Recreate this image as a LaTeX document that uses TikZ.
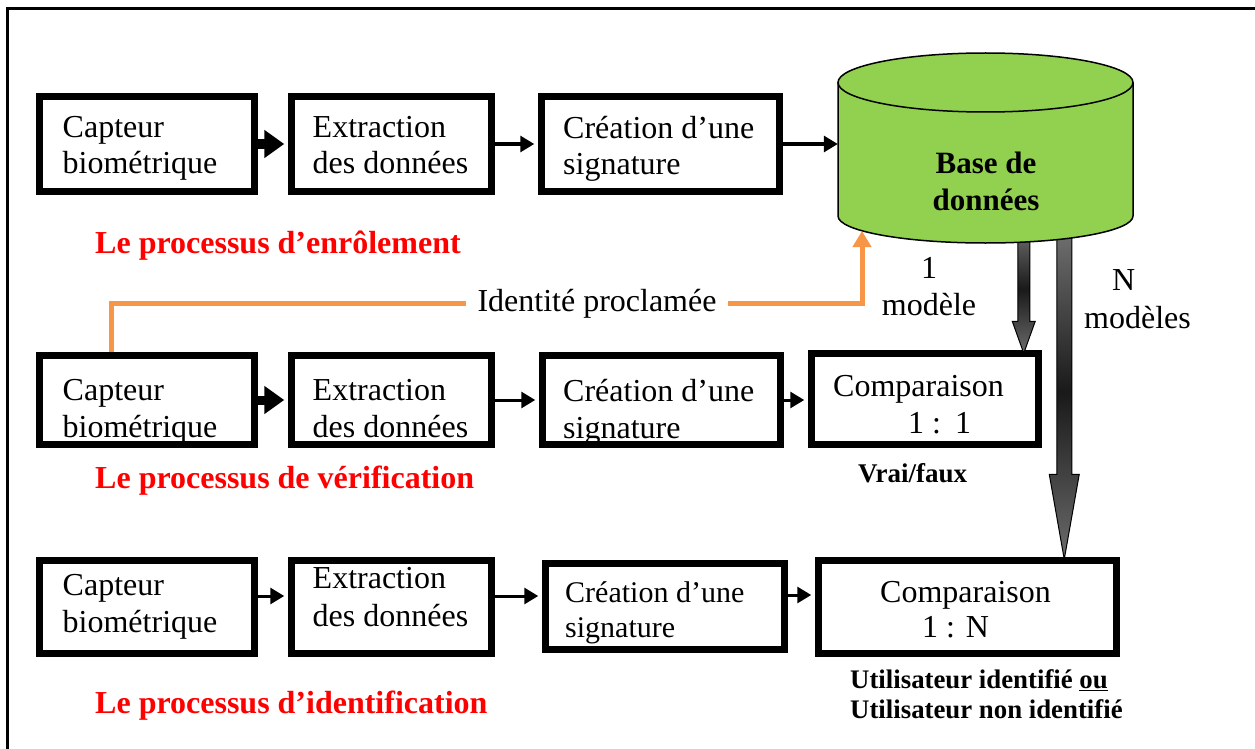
\documentclass[tikz,border=0pt]{standalone}
\usepackage{fontspec}
\setmainfont{Liberation Serif}
\usetikzlibrary{arrows.meta,calc}
\definecolor{dbgreen}{HTML}{92D050}
\definecolor{orline}{HTML}{F79646}
\definecolor{redlab}{HTML}{FF0000}
\newcommand{\fsz}[2]{\fontsize{#1pt}{#2pt}\selectfont}
\begin{document}
\begin{tikzpicture}[x=1pt,y=-1pt,
  box/.style={draw, line width=7.5pt, inner sep=0pt},
  txt/.style={inner sep=0pt, anchor=north west, align=left, font=\fsz{32}{36}, execute at begin node=\strut},
  thinarr/.style={line width=3pt, -{Triangle[length=14pt,width=16pt]}, shorten >=3.5pt},
  thickarr/.style={line width=9pt, -{Triangle[length=20pt,width=27pt]}, shorten >=3.5pt},
  redlabel/.style={text=redlab, font=\fsz{32}{37}\bfseries, inner sep=0pt, anchor=base west},
  fat/.style={draw=black, line width=1pt, top color=black!55, bottom color=black!58, middle color=black!90},
  orl/.style={draw=orline, line width=5pt}]
\useasboundingbox (0,0) rectangle (1255,749);
% frame
\draw[line width=3pt] (7,749) -- (7,9) -- (1255,9);

% texts inside boxes
\node[txt] (tc1) at (62.5,115.8) {Capteur\\biométrique};
\node[txt] (te1) at (312.5,115.8) {Extraction\\des données};
\node[txt] (ts1) at (563,115.8) {Création d’une\\signature};

\node[txt, font=\fsz{32}{37}] (tc2) at (62.5,379.1) {Capteur\\biométrique};
\node[txt, font=\fsz{32}{37}] (te2) at (312.5,379.1) {Extraction\\des données};
\node[txt, font=\fsz{32}{37}] (ts2) at (563,379.1) {Création d’une\\signature};
\node[txt, font=\fsz{32}{37}] (tk2) at (833,375) {Comparaison\\\hspace*{75pt}1 :\hspace{14pt}1};

\node[txt, font=\fsz{32}{37}] (tc3) at (62.5,574) {Capteur\\biométrique};
\node[txt, font=\fsz{32}{38}] (te3) at (312.5,567.4) {Extraction\\des données};
\node[txt, font=\fsz{30}{35}] (ts3) at (565,581.5) {Création d’une\\signature};
\node[txt, font=\fsz{32}{35}] (tk3) at (880,581.5) {Comparaison\\\hspace*{42pt}1 : N};

% boxes
\node[box, minimum width=215pt, minimum height=95pt] (c1) at (147,144) {};
\node[box, minimum width=200pt, minimum height=95pt] (e1) at (391.5,144) {};
\node[box, minimum width=238pt, minimum height=95pt] (s1) at (660.5,144) {};

\node[box, minimum width=215pt, minimum height=89pt] (c2) at (147,400) {};
\node[box, minimum width=200pt, minimum height=89pt] (e2) at (391.5,400) {};
\node[box, minimum width=238pt, minimum height=89pt] (s2) at (661.5,400) {};
\node[box, minimum width=227pt, minimum height=91pt] (k2) at (925,399) {};

\node[box, minimum width=215pt, minimum height=93pt] (c3) at (147,607) {};
\node[box, minimum width=200pt, minimum height=93pt] (e3) at (391.5,607) {};
\node[box, minimum width=239pt, minimum height=86pt] (s3) at (665,606.5) {};
\node[box, minimum width=298pt, minimum height=93pt] (k3) at (967.5,607) {};

% gray block arrows from the database
\coordinate (g1e) at ($(k2.north east)+(-18.5,3.5)$);
\coordinate (g1s) at (g1e |- 0,225);
\coordinate (g2e) at ($(k3.north east)+(-56,2.5)$);
\coordinate (g2s) at (g2e |- 0,225);
\path[fat] ($(g1s)+(-6,0)$) -- ($(g1e)+(-6,-32)$) -- ($(g1e)+(-11.5,-32)$) -- (g1e)
  -- ($(g1e)+(11.5,-32)$) -- ($(g1e)+(6,-32)$) -- ($(g1s)+(6,0)$) -- cycle;
\path[fat] ($(g2s)+(-7.5,0)$) -- ($(g2e)+(-7.5,-85)$) -- ($(g2e)+(-15,-85)$) -- (g2e)
  -- ($(g2e)+(15,-85)$) -- ($(g2e)+(7.5,-85)$) -- ($(g2s)+(7.5,0)$) -- cycle;

% database cylinder
\fill[dbgreen] (838,82.5) -- (838,216) arc[start angle=180, end angle=360, x radius=147.5pt, y radius=27pt] -- (1133,82.5) -- cycle;
\draw[line width=1.5pt] (838,82.5) -- (838,216) arc[start angle=180, end angle=360, x radius=147.5pt, y radius=27pt] -- (1133,82.5);
\draw[line width=1.5pt, fill=dbgreen] (985.5,82.5) ellipse [x radius=147.5pt, y radius=29.5pt];
\node[inner sep=0pt, minimum width=295pt, minimum height=130pt] (db) at (985.5,144) {};
\node[font=\fsz{31}{37}\bfseries, align=center, anchor=north, inner sep=0pt, execute at begin node=\strut] (dbt) at (986,152) {Base de\\données};

% labels near arrows
\node[txt, align=center, anchor=north, font=\fsz{32}{37}] (m1) at (929,257.1) {1\\modèle};
\node[txt, align=left, font=\fsz{32}{38}] (mn) at (1084,269.4) {\hspace*{28pt}N\\modèles};

% claimed identity (orange)
\node[font=\fsz{32}{37}, fill=white, inner xsep=11pt, inner ysep=2pt] (idp) at (597,303.5) {Identité proclamée};
\coordinate (ot) at (862,231);
\draw[orl] ($(c2.north west)+(75.5,0)$) |- (idp.west);
\draw[orl, -{Triangle[length=16pt,width=18pt]}] (idp.east) -| (ot);

% process labels
\node[redlabel] (l1) at (95,253) {Le processus d’enrôlement};
\node[redlabel] (l2) at (95,488) {Le processus de vérification};
\node[redlabel] (l3) at (95,713) {Le processus d’identification};

% results
\node[font=\fsz{27}{30}\bfseries, anchor=base west, inner sep=0pt] (vf) at (858,482) {Vrai/faux};
\node[txt, font=\fsz{26.8}{30}\bfseries] (ui) at (850,669) {Utilisateur identifié \underline{ou}\\Utilisateur non identifié};

% connectors
\draw[thickarr] (c1) -- (e1);
\draw[thinarr] (e1) -- (s1);
\draw[thinarr, shorten >=0pt] (s1.east) -- (s1.east -| db.west);

\draw[thickarr] (c2) -- (e2);
\draw[thinarr] (e2) -- (s2);
\draw[thinarr] (s2.east) -- (s2.east -| k2.west);

\coordinate (r3a) at ($(c3.east)+(0,-11)$);
\coordinate (r3b) at ($(e3.east)+(0,-11)$);
\coordinate (r3c) at ($(s3.east)+(0,-11.5)$);
\draw[thinarr] (r3a) -- (r3a -| e3.west);
\draw[thinarr] (r3b) -- (r3b -| s3.west);
\draw[thinarr] (r3c) -- (r3c -| k3.west);
\end{tikzpicture}
\end{document}
